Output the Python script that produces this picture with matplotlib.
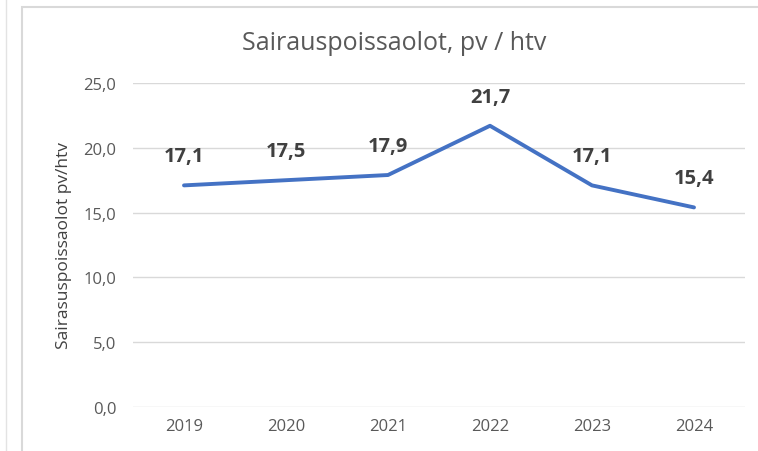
import matplotlib.pyplot as plt
from matplotlib.lines import Line2D
from matplotlib.patches import Rectangle

plt.rcParams['font.family'] = ['Open Sans', 'DejaVu Sans']

years = ['2019', '2020', '2021', '2022', '2023', '2024']
values = [17.1, 17.5, 17.9, 21.7, 17.1, 15.4]
y_ticks = [0, 5, 10, 15, 20, 25]

W, H = 758, 452
fig = plt.figure(figsize=(W / 100, H / 100), dpi=100)

# outer chart frame (extends past the bottom/right edge)
fig.patches.append(Rectangle((22 / W, -0.1), 1.0, 1 - 8 / H + 0.1, transform=fig.transFigure,
                             facecolor='none', edgecolor='#d9d9d9', linewidth=1.5))
fig.lines.append(Line2D([6 / W, 6 / W], [0, 1], transform=fig.transFigure,
                        color='#e3e3e3', linewidth=1))

ax = fig.add_axes([133 / W, 1 - 408 / H, 612 / W, 324 / H])
x = list(range(len(years)))
ax.plot(x, values, color='#4472C4', linewidth=2.8, solid_capstyle='round')

for xi, v in zip(x, values):
    ax.annotate(f'{v:.1f}'.replace('.', ','), (xi, v), xytext=(0, 21), textcoords='offset points',
                ha='center', va='center', fontsize=14.5, fontweight='bold', color='#404040')

ax.set_xlim(-0.5, len(years) - 0.5)
ax.set_ylim(0, 25)
ax.set_xticks(x)
ax.set_xticklabels(years)
ax.set_yticks(y_ticks)
ax.set_yticklabels([f'{t:.1f}'.replace('.', ',') for t in y_ticks])
ax.tick_params(length=0, colors='#595959', labelsize=12, pad=12)
ax.tick_params(axis='x', pad=8)
ax.grid(axis='y', color='#d9d9d9', linewidth=1)
ax.set_axisbelow(True)
for s in ax.spines.values():
    s.set_visible(False)

ax.set_ylabel('Sairasuspoissaolot pv/htv', fontsize=12.5, color='#404040', labelpad=8)
fig.text(394 / W, 1 - 43 / H, 'Sairauspoissaolot, pv / htv', ha='center', va='center',
         fontsize=18, color='#595959')

fig.savefig('out.png', dpi=100)
